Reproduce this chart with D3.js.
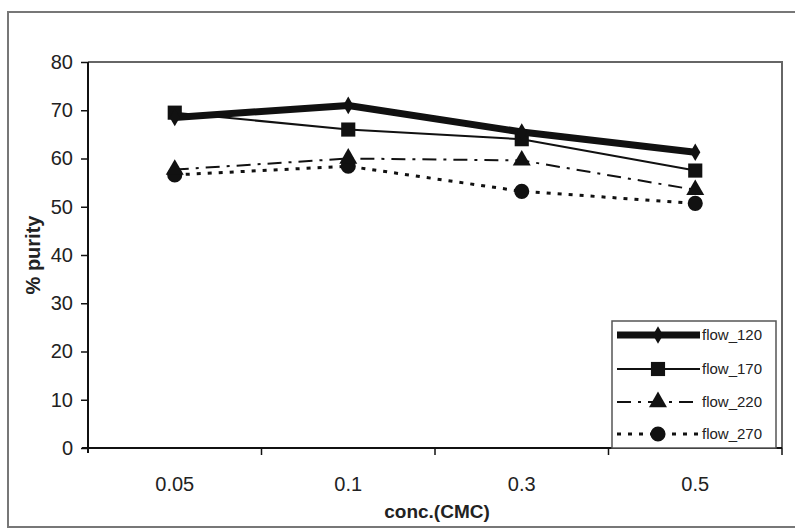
<!DOCTYPE html>
<html><head><meta charset="utf-8">
<script src="https://cdn.jsdelivr.net/npm/d3@7"></script>
<style>body{margin:0;background:#fff}svg{display:block}</style>
</head><body>
<script>
const categories = ["0.05", "0.1", "0.3", "0.5"];
const seriesNames = ["flow_120", "flow_170", "flow_220", "flow_270"];
const flow_120 = [68.5, 71, 65.5, 61.3];
const flow_170 = [69.5, 66, 64, 57.5];
const flow_220 = [57.7, 60, 59.6, 53.5];
const flow_270 = [56.6, 58.4, 53.2, 50.7];
const yTicks = [0, 10, 20, 30, 40, 50, 60, 70, 80];

const W = 795, H = 530;
const m = {left: 88, right: 782, top: 62, bottom: 448};
const svg = d3.select("body").append("svg").attr("width", W).attr("height", H);
svg.append("rect").attr("width", W).attr("height", H).attr("fill", "#fff");
// outer chart frame
svg.append("rect").attr("x", 8).attr("y", 12).attr("width", 800).attr("height", 515)
  .attr("fill", "none").attr("stroke", "#777").attr("stroke-width", 2);

const x = d3.scaleBand().domain(categories).range([m.left, m.right]);
const y = d3.scaleLinear().domain([0, 80]).range([m.bottom, m.top]);

// plot area border (top & right)
svg.append("path").attr("d", `M${m.left},${m.top}H${m.right}V${m.bottom}`)
  .attr("fill", "none").attr("stroke", "#666").attr("stroke-width", 2);

const font = "'Liberation Sans', Arial, sans-serif";
// y axis
const ya = svg.append("g").attr("transform", `translate(${m.left},0)`)
  .call(d3.axisLeft(y).tickValues(yTicks).tickSize(7).tickPadding(8));
ya.select(".domain").attr("stroke", "#111").attr("stroke-width", 2).attr("d", `M0,${m.top}V${m.bottom + 5}`);
ya.selectAll(".tick line").attr("stroke", "#111").attr("stroke-width", 1.5);
ya.selectAll("text").attr("font-family", font).attr("font-size", 20).attr("fill", "#222");

// x axis
const xa = svg.append("g").attr("transform", `translate(0,${m.bottom})`)
  .call(d3.axisBottom(x).tickSize(0).tickPadding(29));
xa.select(".domain").attr("stroke", "#111").attr("stroke-width", 2).attr("d", `M${m.left - 6},0H${m.right}`);
xa.selectAll("text").attr("font-family", font).attr("font-size", 20).attr("fill", "#222");
// category boundary ticks
const bounds = categories.slice(1).map(c => x(c)).concat([m.right]);
xa.selectAll(".bt").data(bounds).enter().append("line")
  .attr("x1", d => d).attr("x2", d => d).attr("y1", 0).attr("y2", 7)
  .attr("stroke", "#111").attr("stroke-width", 1.5);

// axis titles
svg.append("text").attr("transform", `translate(40,${(m.top + m.bottom) / 2}) rotate(-90)`)
  .attr("text-anchor", "middle").attr("font-family", font).attr("font-weight", "bold")
  .attr("font-size", 20).attr("fill", "#222").text("% purity");
svg.append("text").attr("x", 437).attr("y", 518).attr("text-anchor", "middle")
  .attr("font-family", font).attr("font-weight", "bold").attr("font-size", 19).attr("fill", "#222")
  .text("conc.(CMC)");

const cx = c => x(c) + x.bandwidth() / 2;
const styles = [
  {data: flow_120, w: 7, dash: null, marker: "diamond"},
  {data: flow_170, w: 2, dash: null, marker: "square"},
  {data: flow_220, w: 2, dash: "14,7,3,7", marker: "triangle"},
  {data: flow_270, w: 3, dash: "4,7", marker: "circle"}
];
const sym = {
  diamond: d3.symbol().type(d3.symbolDiamond).size(90),
  square: d3.symbol().type(d3.symbolSquare).size(200),
  triangle: d3.symbol().type(d3.symbolTriangle).size(140),
  circle: d3.symbol().type(d3.symbolCircle).size(180)
};
const line = d3.line().x((d, i) => cx(categories[i])).y(d => y(d));
const order = [3, 2, 1, 0];
order.forEach(k => {
  const s = styles[k];
  svg.append("path").attr("d", line(s.data)).attr("fill", "none").attr("stroke", "#111")
    .attr("stroke-width", s.w).attr("stroke-dasharray", s.dash).attr("stroke-linejoin", "round");
  svg.selectAll(null).data(s.data).enter().append("path")
    .attr("transform", (d, i) => `translate(${cx(categories[i])},${y(d)})`)
    .attr("d", sym[s.marker]()).attr("fill", "#111");
});

// legend
const lg = svg.append("g");
lg.append("rect").attr("x", 612).attr("y", 321).attr("width", 164).attr("height", m.bottom - 321)
  .attr("fill", "#fff").attr("stroke", "#555").attr("stroke-width", 1.5);
const ly = [335, 369, 402, 434];
seriesNames.forEach((n, k) => {
  const s = styles[k];
  lg.append("line").attr("x1", 617).attr("x2", 700).attr("y1", ly[k]).attr("y2", ly[k])
    .attr("stroke", "#111").attr("stroke-width", s.w).attr("stroke-dasharray", s.dash);
  lg.append("path").attr("transform", `translate(658,${ly[k]})`).attr("d", sym[s.marker]()).attr("fill", "#111");
  lg.append("text").attr("x", 702).attr("y", ly[k] + 5).attr("font-family", font)
    .attr("font-size", 15).attr("fill", "#222").text(n);
});
</script>
</body></html>
